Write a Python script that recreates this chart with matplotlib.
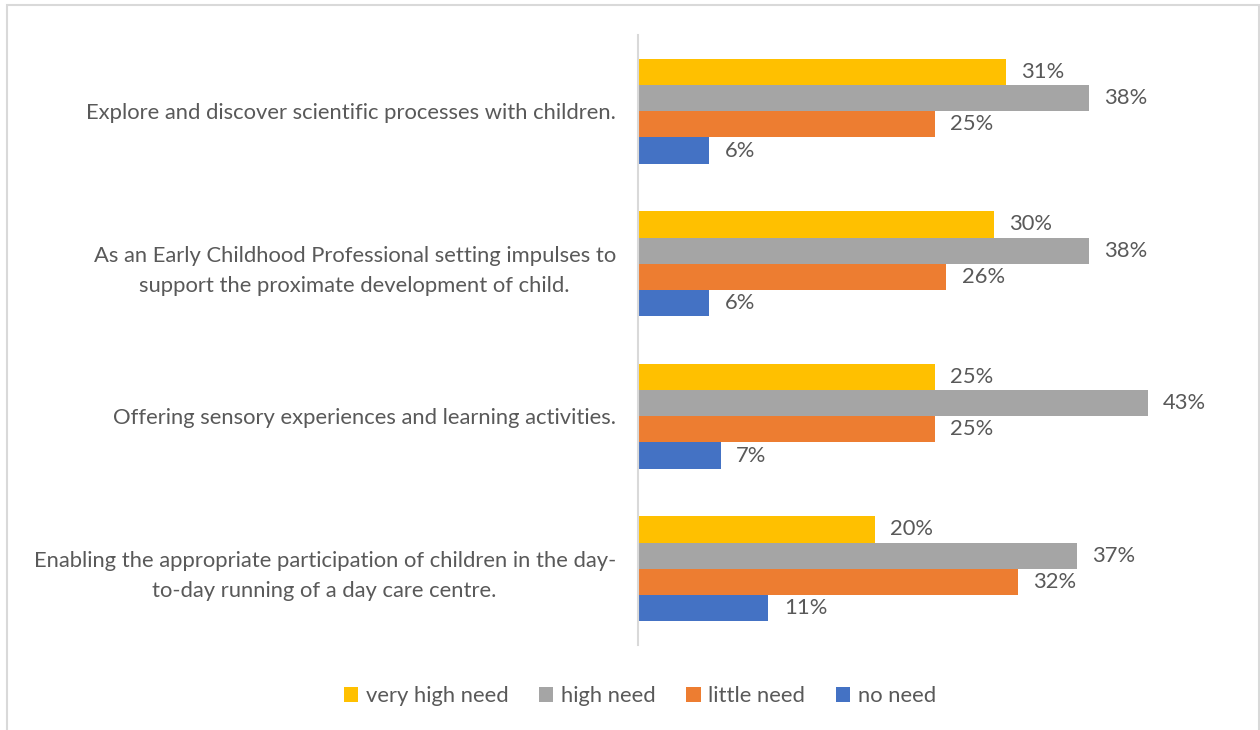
"""Horizontal grouped bar chart: training needs by topic."""

import matplotlib

matplotlib.use("Agg")
import matplotlib.pyplot as plt
import numpy as np
from matplotlib.patches import Rectangle

categories = [
    "Explore and discover scientific processes with children.",
    "As an Early Childhood Professional setting impulses to\nsupport the proximate development of child.",
    "Offering sensory experiences and learning activities.",
    "Enabling the appropriate participation of children in the day-\nto-day running of a day care centre.",
]
series_names = ["very high need", "high need", "little need", "no need"]
very_high_need = [31, 30, 25, 20]
high_need = [38, 38, 43, 37]
little_need = [25, 26, 25, 32]
no_need = [6, 6, 7, 11]
colors = ["#FFC000", "#A5A5A5", "#ED7D31", "#4472C4"]

TEXT = "#595959"
FS = 15.8
plt.rcParams["font.family"] = ["Lato", "DejaVu Sans"]

fig = plt.figure(figsize=(12.6, 7.3), dpi=100)
ax = fig.add_axes([638 / 1260, 1 - 645 / 730, (1231 - 638) / 1260, 610 / 730])

y = np.arange(len(categories))
h = 0.172
all_series = [very_high_need, high_need, little_need, no_need]
for j, (name, vals, col) in enumerate(zip(series_names, all_series, colors)):
    pos = y + (j - 1.5) * h
    bars = ax.barh(pos, vals, height=h, color=col, label=name)
    for b, v in zip(bars, vals):
        ax.annotate(f"{v}%", (b.get_width(), b.get_y() + b.get_height() / 2),
                    xytext=(11, 0), textcoords="offset points",
                    ha="left", va="center", fontsize=FS, color=TEXT)

ax.set_xlim(0, 50)
ax.set_ylim(len(categories) - 0.5, -0.5)
ax.set_yticks(y)
ax.set_yticklabels(categories, fontsize=FS, color=TEXT, multialignment="center",
                   linespacing=1.65)
ax.tick_params(axis="y", length=0, pad=16)
ax.set_xticks([])
for side in ["top", "right", "bottom"]:
    ax.spines[side].set_visible(False)
ax.spines["left"].set_color("#D9D9D9")
ax.spines["left"].set_linewidth(1.5)

leg = fig.legend(loc="center", bbox_to_anchor=(640 / 1260, 1 - 696 / 730), ncol=4,
                 frameon=False, fontsize=FS, handlelength=0.65, handleheight=0.65,
                 handletextpad=0.35, columnspacing=1.4)
for t in leg.get_texts():
    t.set_color(TEXT)

# chart area border (bottom edge falls outside the crop)
fig.patches.append(Rectangle((7 / 1260, -0.05), (1259 - 7) / 1260, 1.05 - 5 / 730,
                             transform=fig.transFigure, fill=False,
                             edgecolor="#D9D9D9", linewidth=1.5))

fig.savefig("out.png", dpi=100)
